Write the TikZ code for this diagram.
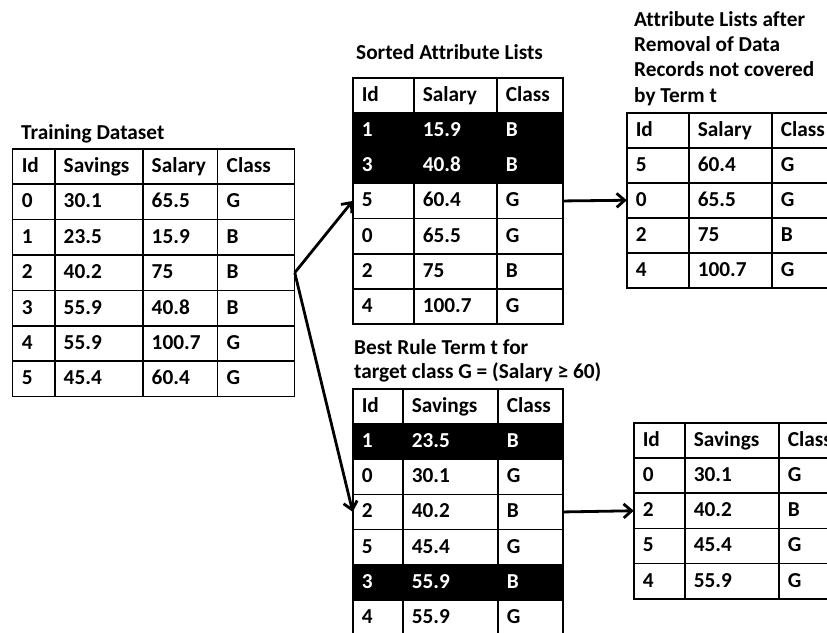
\documentclass[tikz,border=0pt]{standalone}
\usepackage{fontspec}
\setmainfont{Carlito}[Ligatures=NoCommon]
\usetikzlibrary{matrix,arrows.meta}

\newcommand\cellfont{\fontsize{21.3}{25.3}\selectfont\bfseries}

\tikzset{
  cellbox/.style={draw, line width=1.5pt, inner xsep=9pt, inner ysep=0pt,
    outer sep=0pt, align=left, text height=15pt, text depth=3pt, font=\cellfont},
  tab/.style={matrix of nodes, inner sep=0pt, outer sep=0pt, anchor=north west,
    row sep=-1.5pt, column sep=-1.5pt, nodes={cellbox}},
  dark/.style={nodes={fill=black, text=white}},
  arr/.style={line width=2.8pt, -{Straight Barb[length=8pt,width=14pt]}},
  caption/.style={anchor=base west, inner sep=0pt, align=left, font=\cellfont},
}

\begin{document}
\begin{tikzpicture}[x=1pt, y=-1pt]
\useasboundingbox (0,0) rectangle (827,632);
\fill[white] (0,0) rectangle (827,632);
\clip (0,0) rectangle (827,632);

% training data
\node[caption] (capA) at (21,139) {Training Dataset};
\matrix (A) [tab, nodes={minimum height=35.4pt},
  column 1/.style={nodes={text width=24pt}},
  column 2/.style={nodes={text width=70pt}},
  column 3/.style={nodes={text width=57pt}},
  column 4/.style={nodes={text width=59pt}}] at (12,148) {
  Id & Savings & Salary & Class \\
  0 & 30.1 & 65.5 & G \\
  1 & 23.5 & 15.9 & B \\
  2 & 40.2 & 75 & B \\
  3 & 55.9 & 40.8 & B \\
  4 & 55.9 & 100.7 & G \\
  5 & 45.4 & 60.4 & G \\
};

% salary list, sorted
\node[caption] (capB) at (356,59) {Sorted Attribute Lists};
\matrix (B) [tab, nodes={minimum height=35.2pt},
  column 1/.style={nodes={text width=43pt}},
  column 2/.style={nodes={text width=65pt}},
  column 3/.style={nodes={text width=48pt}},
  row 2/.style={dark}, row 3/.style={dark}] at (352,77) {
  Id & Salary & Class \\
  1 & 15.9 & B \\
  3 & 40.8 & B \\
  5 & 60.4 & G \\
  0 & 65.5 & G \\
  2 & 75 & B \\
  4 & 100.7 & G \\
};

% salary list, records covered by t (caption placed by its last line)
\node[caption] (capC) at (634,102) {Attribute Lists after\\Removal of Data\\Records not covered\\by Term t};
\matrix (C) [tab, nodes={minimum height=35pt},
  column 1/.style={nodes={text width=44pt}},
  column 2/.style={nodes={text width=65pt}},
  column 3/.style={nodes={text width=48pt}}] at (626,112) {
  Id & Salary & Class \\
  5 & 60.4 & G \\
  0 & 65.5 & G \\
  2 & 75 & B \\
  4 & 100.7 & G \\
};

% savings list, sorted
\node[caption, font=\fontsize{21.3}{24}\selectfont\bfseries] (capD) at (354,378)
  {Best Rule Term t for\\target class G = (Salary ≥ 60)};
\matrix (D) [tab, nodes={minimum height=35.2pt},
  column 1/.style={nodes={text width=32pt}},
  column 2/.style={nodes={text width=77pt}},
  column 3/.style={nodes={text width=47pt}},
  row 2/.style={dark}, row 6/.style={dark}] at (352,388) {
  Id & Savings & Class \\
  1 & 23.5 & B \\
  0 & 30.1 & G \\
  2 & 40.2 & B \\
  5 & 45.4 & G \\
  3 & 55.9 & B \\
  4 & 55.9 & G \\
};

% savings list, records covered by t
\matrix (E) [tab, nodes={minimum height=35.2pt},
  column 1/.style={nodes={text width=33pt}},
  column 2/.style={nodes={text width=76pt}},
  column 3/.style={nodes={text width=47pt}}] at (633,422) {
  Id & Savings & Class \\
  0 & 30.1 & G \\
  2 & 40.2 & B \\
  5 & 45.4 & G \\
  4 & 55.9 & G \\
};

% flow between the lists
\draw[arr] (A-4-4.east) -- (B-4-1.west);
\draw[arr] (A-4-4.east) -- (D-4-1.west);
\draw[arr] (B-4-3.east) -- (C-3-1.west);
\draw[arr] (D-4-3.east) -- (E-3-1.west);
\end{tikzpicture}
\end{document}
